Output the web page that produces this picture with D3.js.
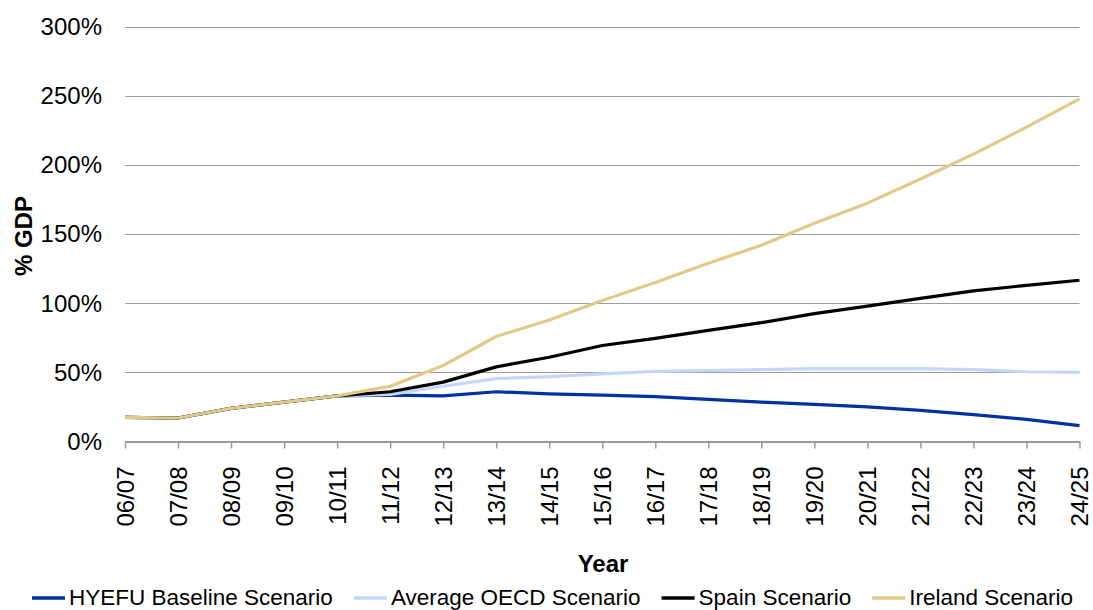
<!DOCTYPE html>
<html><head><meta charset="utf-8">
<script src="https://cdn.jsdelivr.net/npm/d3@7"></script>
<style>body{margin:0;background:#fff;} svg{display:block;font-family:Arial,"Liberation Sans",sans-serif;}</style>
</head><body>
<svg id="c" width="1093" height="610"></svg>
<script>
const years = ["06/07","07/08","08/09","09/10","10/11","11/12","12/13","13/14","14/15","15/16","16/17","17/18","18/19","19/20","20/21","21/22","22/23","23/24","24/25"];
const hyefu  = [17.5,17,24,28.5,33,33.5,33,36,34.5,33.5,32.5,30.5,28.5,26.8,25,22.5,19.5,16,11.5];
const oecd   = [17.5,17,24,28.5,33,34,40,45.5,47,49,50.7,51.4,52,52.7,52.7,52.7,52,50.5,50];
const spain  = [17.5,17,24,28.5,33,36,43,54,61,69.5,74.6,80.4,86,92.5,98,103.6,109,113,116.7];
const ireland= [17.5,17,24,28.5,33,40,55,76,88,102,115,129,142,158,172.5,190,208,227.5,248];
const yTicks = [0,50,100,150,200,250,300];
const seriesNames = ["HYEFU Baseline Scenario","Average OECD Scenario","Spain Scenario","Ireland Scenario"];
const seriesColors = ["#0033a0","#c3d7fb","#000000","#e0ca88"];
const seriesValues = [hyefu, oecd, spain, ireland];

const svg = d3.select("#c");
const x = d3.scalePoint().domain(years).range([125, 1079.5]);
const y = d3.scaleLinear().domain([0, 300]).range([441.5, 27]);

// gridlines
svg.append("g").selectAll("line").data(yTicks.filter(d => d > 0)).join("line")
  .attr("x1", 125).attr("x2", 1079.5)
  .attr("y1", d => Math.round(y(d)) + 0.5).attr("y2", d => Math.round(y(d)) + 0.5)
  .attr("stroke", "#9c9c9c").attr("stroke-width", 1.2);

// y labels
const yAxis = d3.axisLeft(y).tickValues(yTicks).tickFormat(d => d + "%").tickSize(0).tickPadding(0);
const gy = svg.append("g").attr("transform", "translate(102,0)").call(yAxis);
gy.select(".domain").remove();
gy.selectAll("text").attr("font-size", 24).attr("fill", "#000").attr("font-family", "Arial,'Liberation Sans',sans-serif");

// x axis
const xAxis = d3.axisBottom(x).tickSize(7).tickPadding(0).tickSizeOuter(0);
const gx = svg.append("g").attr("transform", "translate(0,441.5)").call(xAxis);
gx.select(".domain").attr("stroke", "#999").attr("stroke-width", 2);
gx.selectAll(".tick line").attr("stroke", "#999").attr("stroke-width", 1.5);
gx.selectAll(".tick text")
  .attr("font-size", 24).attr("fill", "#000").attr("font-family", "Arial,'Liberation Sans',sans-serif")
  .attr("transform", "rotate(-90)")
  .attr("text-anchor", "end").attr("x", -25).attr("y", 0).attr("dy", "0.35em").attr("dx", 0);

// lines
const line = d3.line().x((d, i) => x(years[i])).y(d => y(d));
svg.append("g").selectAll("path").data(seriesValues).join("path")
  .attr("d", d => line(d)).attr("fill", "none")
  .attr("stroke", (d, i) => seriesColors[i]).attr("stroke-width", 3.2)
  .attr("stroke-linejoin", "round");

// axis titles
svg.append("text").attr("transform", "translate(32,236) rotate(-90)").attr("text-anchor", "middle")
  .attr("font-size", 24).attr("font-weight", "bold").text("% GDP");
svg.append("text").attr("x", 603).attr("y", 572).attr("text-anchor", "middle")
  .attr("font-size", 24).attr("font-weight", "bold").text("Year");

// legend
let lx = 32;
seriesNames.forEach((name, i) => {
  const g = svg.append("g");
  g.append("line").attr("x1", lx).attr("x2", lx + 33).attr("y1", 598).attr("y2", 598)
    .attr("stroke", seriesColors[i]).attr("stroke-width", 3.5);
  const t = g.append("text").attr("x", lx + 37).attr("y", 604.5).attr("font-size", 22.5)
    .attr("fill", "#000").text(name);
  lx = lx + 37 + t.node().getComputedTextLength() + 21;
});
</script>
</body></html>
